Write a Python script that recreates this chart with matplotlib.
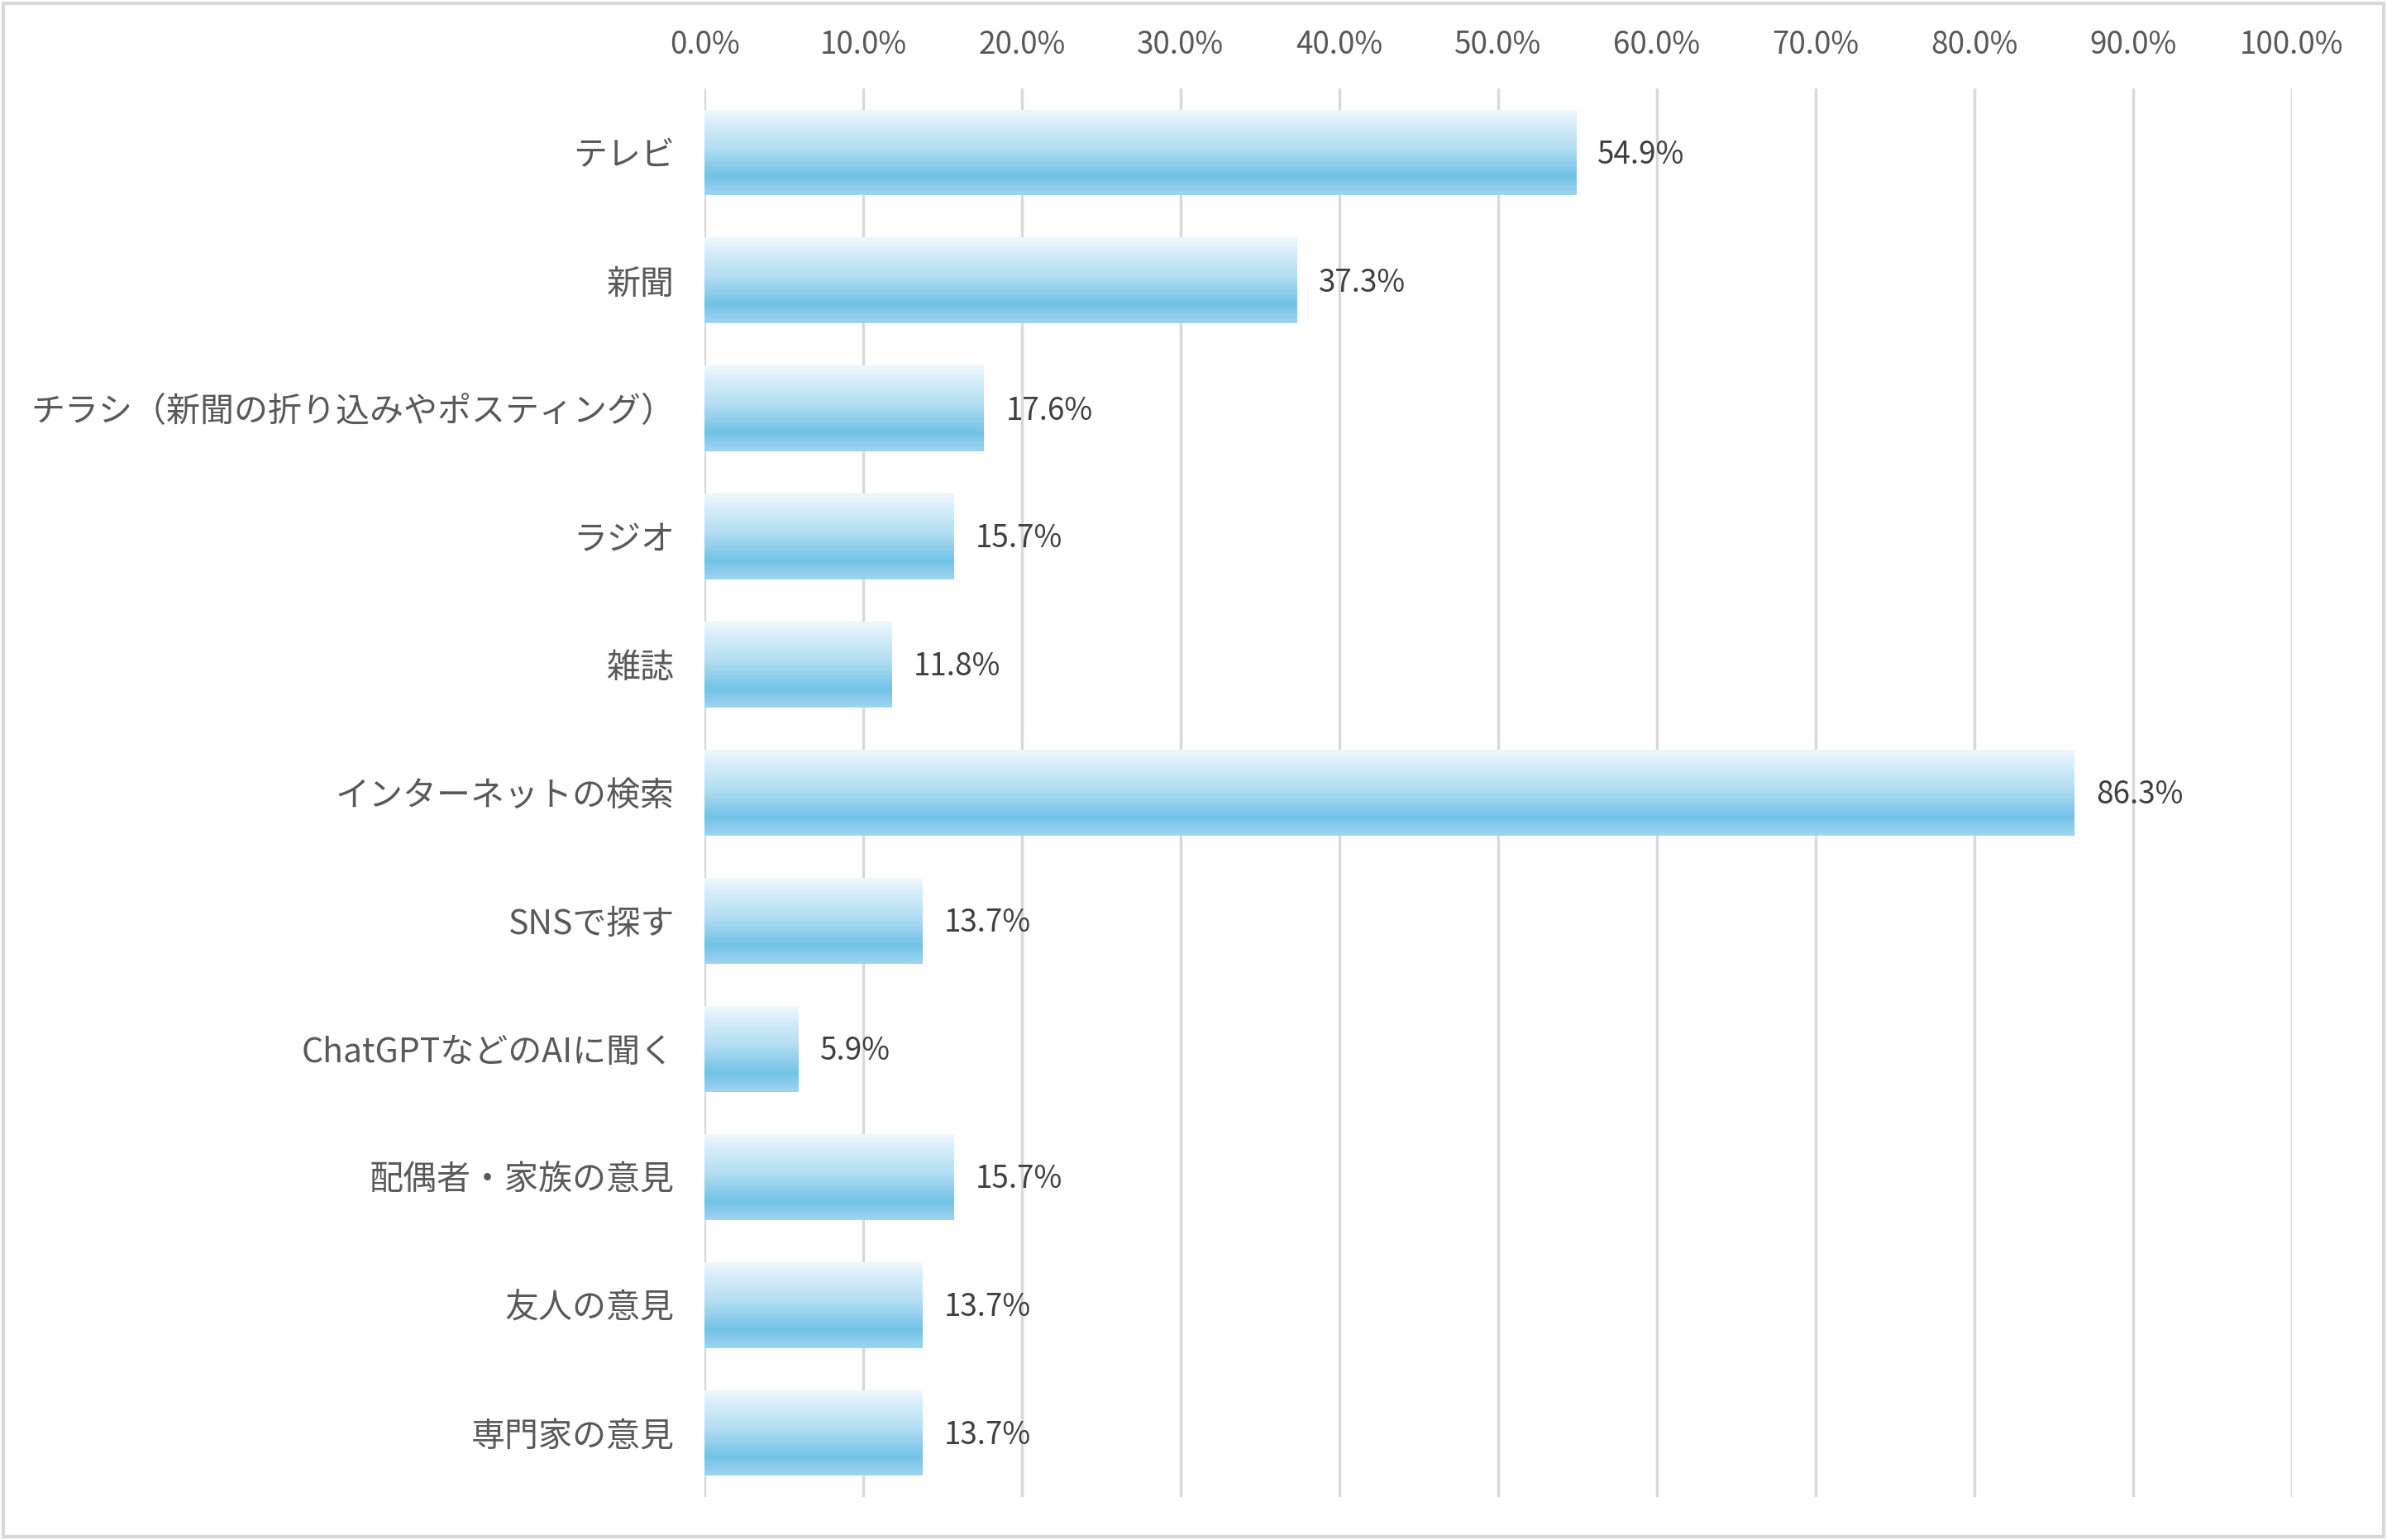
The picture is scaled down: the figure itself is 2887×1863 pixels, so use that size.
import matplotlib
matplotlib.use("Agg")
import matplotlib.pyplot as plt
import numpy as np
from matplotlib.colors import LinearSegmentedColormap
from matplotlib.patches import Rectangle

plt.rcParams["font.family"] = ["Noto Sans CJK JP", "DejaVu Sans"]

categories = [
    "テレビ",
    "新聞",
    "チラシ（新聞の折り込みやポスティング）",
    "ラジオ",
    "雑誌",
    "インターネットの検索",
    "SNSで探す",
    "ChatGPTなどのAIに聞く",
    "配偶者・家族の意見",
    "友人の意見",
    "専門家の意見",
]
values = [54.9, 37.3, 17.6, 15.7, 11.8, 86.3, 13.7, 5.9, 15.7, 13.7, 13.7]
tick_values = [0, 10, 20, 30, 40, 50, 60, 70, 80, 90, 100]

# vertical gradient: light on top, saturated near bottom, a bit lighter at the edge
grad_cmap = LinearSegmentedColormap.from_list(
    "bar_grad",
    [(0.0, "#EEF7FD"), (0.45, "#B3DEF3"), (0.78, "#72C2E7"), (1.0, "#9DD6F0")],
)
gradient = np.linspace(0, 1, 256).reshape(-1, 1)

fig = plt.figure(figsize=(28.87, 18.63), dpi=100)
ax = fig.add_axes([852 / 2887, 52 / 1863, (2772 - 852) / 2887, (1811 - 107) / 1863])

y = np.arange(len(categories))
bars = ax.barh(y, values, height=0.67, color="none", edgecolor="none", zorder=2)

for bar in bars:
    x0, y0 = bar.get_x(), bar.get_y()
    w, h = bar.get_width(), bar.get_height()
    im = ax.imshow(
        gradient,
        cmap=grad_cmap,
        aspect="auto",
        extent=(x0, x0 + w, y0 + h, y0),
        origin="upper",
        zorder=2,
        interpolation="bicubic",
    )
    im.set_clip_path(Rectangle((x0, y0), w, h, transform=ax.transData))

ax.set_xlim(0, 100)
ax.set_ylim(len(categories) - 0.5, -0.5)
ax.set_aspect("auto")

for yi, v in zip(y, values):
    ax.annotate(
        f"{v:.1f}%",
        (v, yi),
        xytext=(19, -2),
        textcoords="offset points",
        va="center",
        ha="left",
        fontsize=26.5,
        color="#404040",
    )

ax.set_xticks(tick_values)
ax.set_xticklabels([f"{t:.1f}%" for t in tick_values], fontsize=26.5, color="#595959")
ax.xaxis.tick_top()
ax.tick_params(axis="x", length=0, pad=24)
ax.set_yticks(y)
ax.set_yticklabels(categories, fontsize=29.5, color="#595959")
ax.tick_params(axis="y", length=0, pad=26)

ax.grid(axis="x", color="#D9D9D9", linewidth=2.5, zorder=0)
ax.set_axisbelow(True)
for s in ax.spines.values():
    s.set_visible(False)

fig.patches.append(
    Rectangle((0.0015, 0.002), 0.997, 0.996, transform=fig.transFigure,
              fill=False, edgecolor="#D9D9D9", linewidth=3)
)

fig.savefig("out.png", dpi=100, facecolor="white")
